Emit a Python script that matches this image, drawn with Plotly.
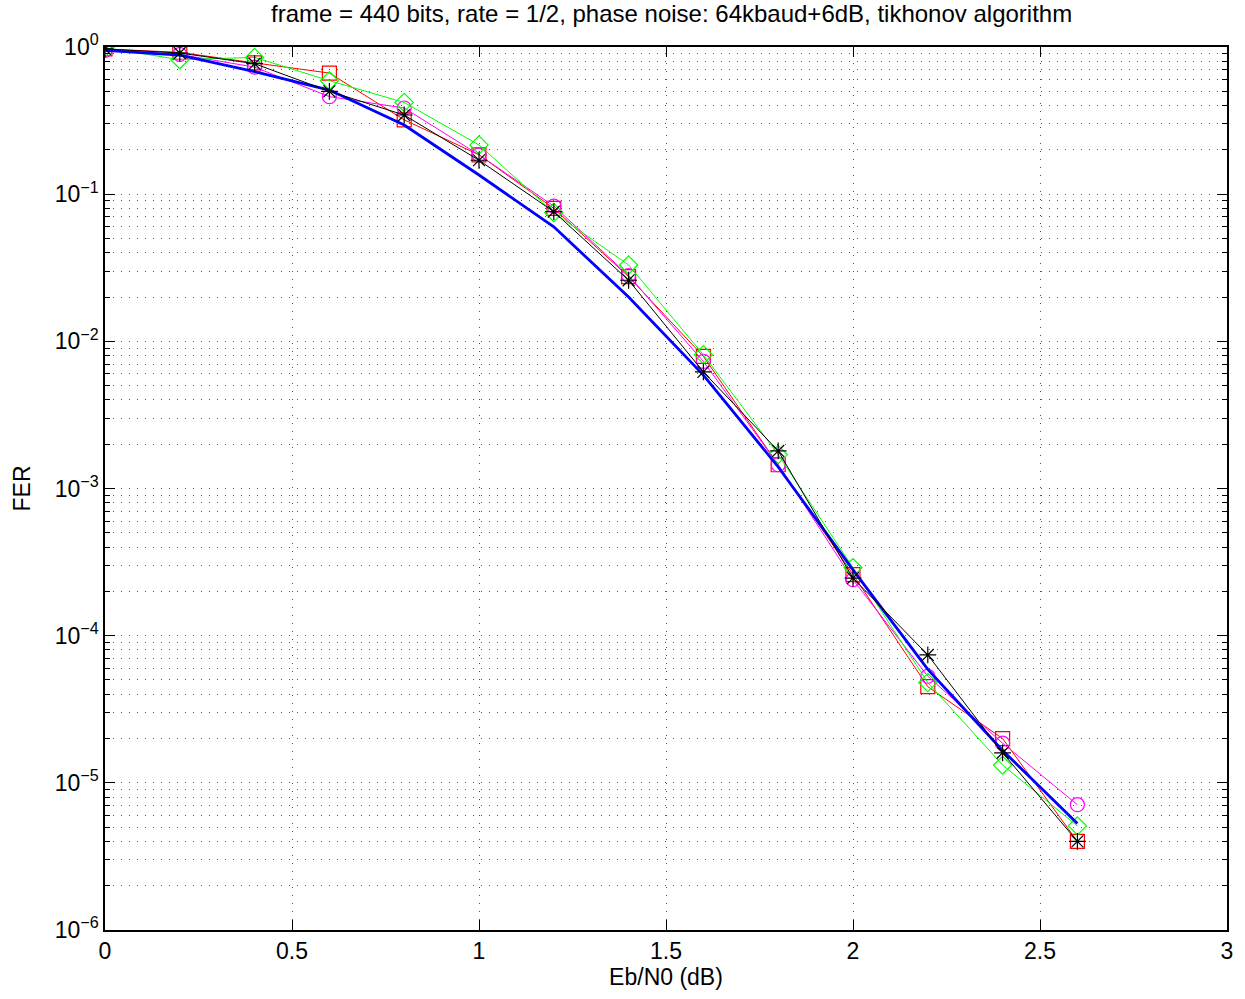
import plotly.graph_objects as go

# Eb/N0 sweep (dB)
ebn0 = [0.0, 0.2, 0.4, 0.6, 0.8, 1.0, 1.2, 1.4, 1.6, 1.8, 2.0, 2.2, 2.4, 2.6]

# Frame error rate per receiver configuration
fer_blue = [0.95, 0.88, 0.68, 0.51, 0.295, 0.135, 0.06, 0.020, 0.0059, 0.0014,
             2.8e-4, 5.9e-5, 1.66e-5, 5.3e-6]
fer_red = [0.97, 0.92, 0.78, 0.665, 0.32, 0.185, 0.080, 0.0275, 0.0079, 0.00145,
           2.6e-4, 4.5e-5, 2.0e-5, 4.0e-6]
fer_green = [0.99, 0.82, 0.85, 0.59, 0.42, 0.216, 0.075, 0.033, 0.0081, 0.0017,
             2.9e-4, 4.8e-5, 1.32e-5, 5.1e-6]
fer_magenta = [0.95, 0.89, 0.73, 0.46, 0.385, 0.185, 0.083, 0.028, 0.0073, 0.00145,
               2.4e-4, 5.3e-5, 1.86e-5, 7.1e-6]
fer_black = [0.97, 0.91, 0.77, 0.50, 0.345, 0.17, 0.076, 0.026, 0.0062, 0.0018,
             2.46e-4, 7.4e-5, 1.6e-5, 4.0e-6]

x_ticks = [0, 0.5, 1, 1.5, 2, 2.5, 3]
y_ticks = [1e-6, 1e-5, 1e-4, 1e-3, 1e-2, 1e-1, 1]
y_tick_text = ["10<sup>−6</sup>", "10<sup>−5</sup>", "10<sup>−4</sup>",
               "10<sup>−3</sup>", "10<sup>−2</sup>", "10<sup>−1</sup>", "10<sup>0</sup>"]

fig = go.Figure()

def add_series(y, color, symbol=None, width=1):
    mode = "lines+markers" if symbol else "lines"
    fig.add_trace(go.Scatter(
        x=ebn0, y=y, mode=mode,
        line=dict(color=color, width=width),
        marker=dict(symbol=symbol, size=14, color=color,
                    line=dict(color=color, width=1.2)) if symbol else None,
        showlegend=False,
    ))

add_series(fer_red, "#FF0000", "square-open")
add_series(fer_magenta, "#FF00FF", "circle-open")
add_series(fer_green, "#00FF00", "diamond-open")
add_series(fer_blue, "#0000FF", None, width=2.8)
add_series(fer_black, "#000000", "asterisk-open")

font = "Liberation Sans, Arial, Helvetica, sans-serif"
dots = "1px,7px"

fig.update_layout(
    width=1245, height=999,
    margin=dict(l=105, r=13, t=47, b=69),
    paper_bgcolor="white", plot_bgcolor="white",
    font=dict(family=font, size=23, color="black"),
    title=dict(text="frame = 440 bits, rate = 1/2, phase noise: 64kbaud+6dB, tikhonov algorithm",
               x=0.505, xref="paper", xanchor="center", y=0.995, yanchor="top",
               font=dict(size=24, family=font)),
)

fig.update_xaxes(
    range=[0, 3], tickvals=x_ticks, ticktext=[str(v) for v in x_ticks],
    showline=True, linecolor="black", linewidth=1.5, mirror="allticks",
    ticks="inside", ticklen=10, tickcolor="black",
    tickfont=dict(size=23, family=font),
    showgrid=True, gridcolor="#555555", gridwidth=1, griddash=dots,
    zeroline=False,
    title=dict(text="Eb/N0 (dB)", standoff=4, font=dict(size=23, family=font)),
)

fig.update_yaxes(
    type="log", range=[-6, 0], tickvals=y_ticks, ticktext=y_tick_text,
    showline=True, linecolor="black", linewidth=1.5, mirror="allticks",
    ticks="inside", ticklen=10, tickcolor="black",
    tickfont=dict(size=23, family=font),
    showgrid=True, gridcolor="#555555", gridwidth=1, griddash=dots,
    minor=dict(dtick="D1", ticks="inside", ticklen=5, tickcolor="black",
               showgrid=True, gridcolor="#555555", gridwidth=1, griddash=dots),
    zeroline=False,
    title=dict(text="FER", standoff=18, font=dict(size=23, family=font)),
)

fig.write_html("out.html")
